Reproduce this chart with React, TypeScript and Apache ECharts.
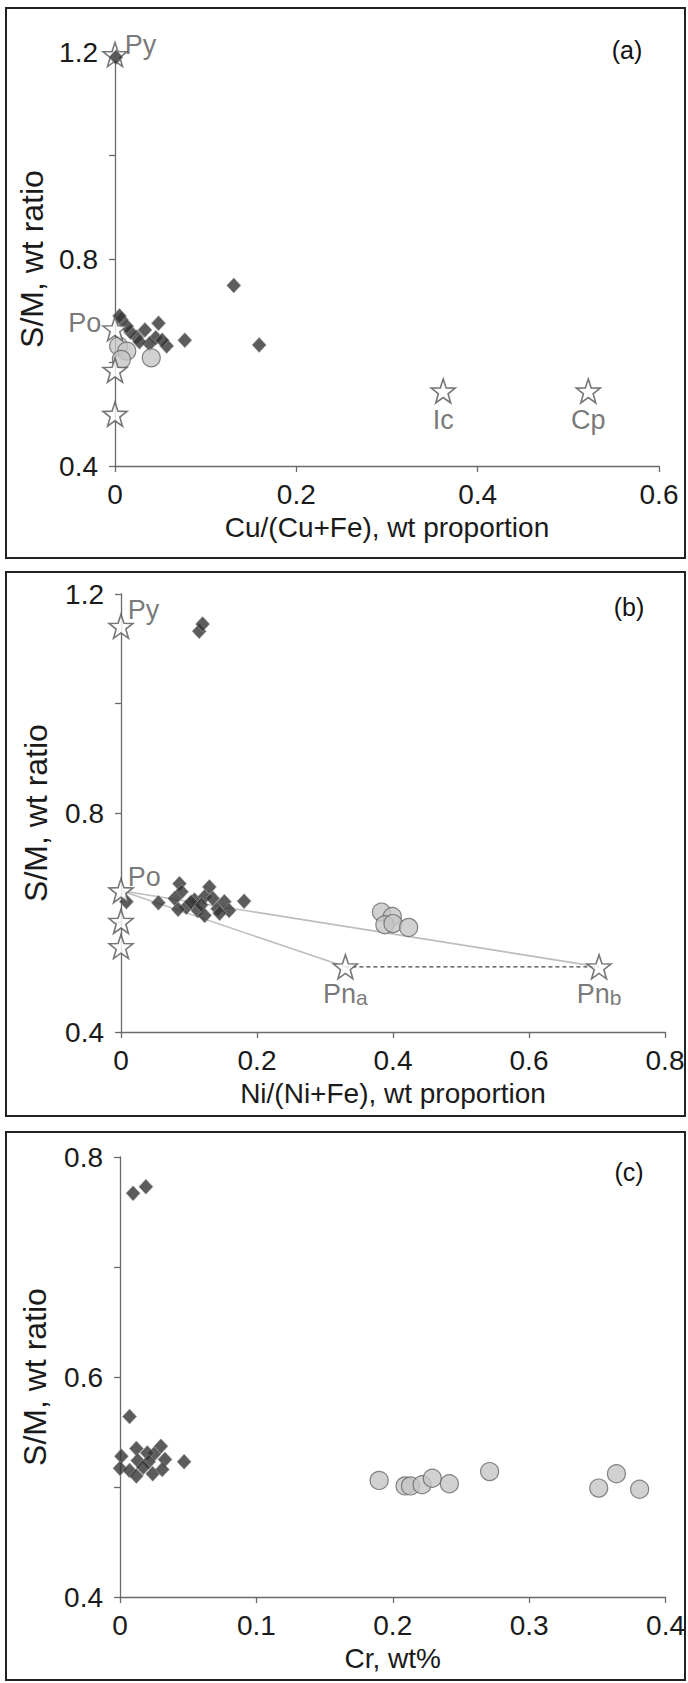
import React, { useEffect, useRef } from "react";
import * as echarts from "echarts";

// ---------- Panel (a): Cu/(Cu+Fe) vs S/M ----------
const aDiamonds: number[][] = [
  [0.131, 0.749], [0.159, 0.634], [0.077, 0.643], [0.048, 0.676], [0.057, 0.632],
  [0.045, 0.648], [0.033, 0.663], [0.024, 0.649], [0.017, 0.659], [0.007, 0.683],
  [0.005, 0.69], [0.013, 0.67], [0.038, 0.636], [0.052, 0.643], [0.027, 0.64],
];
const aPyDiamond: number[][] = [[0.001, 1.19]];
const aCircles: number[][] = [[0.004, 0.632], [0.013, 0.622], [0.007, 0.606], [0.04, 0.609]];
const aStars: number[][] = [[0, 1.195], [0, 0.665], [0, 0.585], [0, 0.5], [0.362, 0.545], [0.522, 0.545]];
const aStarNames = ["Py", "Po", "", "", "Ic", "Cp"];

// ---------- Panel (b): Ni/(Ni+Fe) vs S/M ----------
const bDiamonds: number[][] = [
  [0.115, 1.132], [0.12, 1.145],
  [0.008, 0.638], [0.055, 0.636], [0.086, 0.671], [0.089, 0.656], [0.079, 0.644],
  [0.096, 0.628], [0.084, 0.624], [0.108, 0.641], [0.13, 0.665], [0.123, 0.647],
  [0.135, 0.644], [0.113, 0.622], [0.123, 0.613], [0.142, 0.625], [0.152, 0.638],
  [0.159, 0.622], [0.145, 0.617], [0.181, 0.639], [0.103, 0.637], [0.118, 0.632],
];
const bCircles: number[][] = [[0.383, 0.619], [0.399, 0.611], [0.388, 0.596], [0.4, 0.598], [0.423, 0.591]];
const bStars: number[][] = [[0, 1.141], [0, 0.658], [0, 0.602], [0, 0.556], [0.33, 0.519], [0.703, 0.519]];
const bStarNames = ["Py", "Po", "", "", "Pna", "Pnb"];
const bTieA: number[][] = [[0, 0.658], [0.33, 0.519]];
const bTieB: number[][] = [[0, 0.658], [0.703, 0.519]];
const bPnLine: number[][] = [[0.33, 0.519], [0.703, 0.519]];

// ---------- Panel (c): Cr vs S/M ----------
const cDiamonds: number[][] = [
  [0.0096, 0.767], [0.019, 0.773], [0.007, 0.564], [0.001, 0.528], [0.012, 0.535],
  [0.03, 0.537], [0.025, 0.53], [0.02, 0.531], [0.013, 0.524], [0.0, 0.517],
  [0.007, 0.515], [0.012, 0.51], [0.021, 0.523], [0.033, 0.525], [0.024, 0.512],
  [0.047, 0.523], [0.031, 0.516], [0.017, 0.518],
];
const cCircles: number[][] = [
  [0.19, 0.506], [0.209, 0.501], [0.213, 0.501], [0.2215, 0.502], [0.229, 0.508],
  [0.2415, 0.503], [0.271, 0.514], [0.351, 0.499], [0.364, 0.512], [0.381, 0.498],
];

// axis definitions
const xTitles = ["Cu/(Cu+Fe), wt proportion", "Ni/(Ni+Fe), wt proportion", "Cr, wt%"];
const yTitle = "S/M, wt ratio";
const panelTags = ["(a)", "(b)", "(c)"];

const FONT = '"Liberation Sans", Arial, Helvetica, sans-serif';
const AXIS_COLOR = "#6a6a6a";
const STAR_PATH =
  "path://M12,0.8 L14.8,8.9 L23.4,9.1 L16.6,14.3 L19.1,22.6 L12,17.7 L4.9,22.6 L7.4,14.3 L0.6,9.1 L9.2,8.9 Z";

const labelPlacement: Record<string, any> = {
  a_Py: { position: "right", distance: 5, offset: [-8, -10] },
  a_Po: { position: "left", distance: 5, offset: [4, -6] },
  a_Ic: { position: "bottom", distance: 3 },
  a_Cp: { position: "bottom", distance: 3 },
  b_Py: { position: "right", distance: 5, offset: [-11, -16] },
  b_Po: { position: "right", distance: 5, offset: [-11, -14] },
  b_Pna: { position: "bottom", distance: 1 },
  b_Pnb: { position: "bottom", distance: 1 },
};

function fmtTick(min: number, labelStep: number) {
  return (v: number) => {
    const k = (v - min) / labelStep;
    if (Math.abs(k - Math.round(k)) > 1e-6) return "";
    const r = Math.round(v * 10) / 10;
    return r === 0 ? "0" : r.toFixed(1);
  };
}

function xAxisCfg(gi: number, max: number, step: number, name: string) {
  return {
    type: "value",
    gridIndex: gi,
    min: 0,
    max,
    interval: step,
    name,
    nameLocation: "middle",
    nameGap: 47,
    nameTextStyle: { fontFamily: FONT, fontSize: 28, color: "#1a1a1a" },
    axisLine: { show: true, onZero: false, lineStyle: { color: AXIS_COLOR, width: 1.3 } },
    axisTick: { show: true, inside: false, length: 6, lineStyle: { color: AXIS_COLOR, width: 1.3 } },
    splitLine: { show: false },
    axisLabel: {
      fontFamily: FONT,
      fontSize: 28,
      color: "#1a1a1a",
      margin: 14,
      formatter: fmtTick(0, step),
    },
  };
}

function yAxisCfg(gi: number, min: number, max: number, step: number, labelStep: number, nameGap: number) {
  return {
    type: "value",
    gridIndex: gi,
    min,
    max,
    interval: step,
    name: yTitle,
    nameLocation: "middle",
    nameGap,
    nameTextStyle: { fontFamily: FONT, fontSize: 32, color: "#1a1a1a" },
    axisLine: { show: true, onZero: false, lineStyle: { color: AXIS_COLOR, width: 1.3 } },
    axisTick: { show: true, inside: false, length: 6, lineStyle: { color: AXIS_COLOR, width: 1.3 } },
    splitLine: { show: false },
    axisLabel: {
      fontFamily: FONT,
      fontSize: 28,
      color: "#1a1a1a",
      margin: 17,
      formatter: fmtTick(min, labelStep),
    },
  };
}

const diamondStyle = { color: "#333333", borderColor: "#9a9a9a", borderWidth: 0.8 };
const circleStyle = { color: "#c6c6c6", borderColor: "#666666", borderWidth: 1.2 };
const starStyle = { color: "#ffffff", borderColor: "#555555", borderWidth: 1.6 };

function diamondSeries(gi: number, data: number[][], z = 3) {
  return {
    type: "scatter",
    xAxisIndex: gi,
    yAxisIndex: gi,
    data,
    symbol: "diamond",
    symbolSize: [14, 15],
    itemStyle: diamondStyle,
    z,
  };
}

function circleSeries(gi: number, data: number[][]) {
  return {
    type: "scatter",
    xAxisIndex: gi,
    yAxisIndex: gi,
    data,
    symbol: "circle",
    symbolSize: 18,
    itemStyle: circleStyle,
    z: 4,
  };
}

function starSeries(gi: number, prefix: string, data: number[][], names: string[]) {
  return {
    type: "scatter",
    xAxisIndex: gi,
    yAxisIndex: gi,
    symbol: STAR_PATH,
    symbolSize: 24,
    itemStyle: starStyle,
    z: 5,
    data: data.map((p, i) => {
      const n = names[i];
      const place = labelPlacement[prefix + "_" + n];
      const sub = n.length === 3;
      return {
        value: p,
        name: n,
        label: n
          ? {
              show: true,
              ...place,
              formatter: sub ? `{m|${n.slice(0, 2)}}{s|${n.slice(2)}}` : n,
              fontFamily: FONT,
              fontSize: 27,
              color: "#555555",
              rich: {
                m: { fontFamily: FONT, fontSize: 27, color: "#555555", verticalAlign: "bottom" },
                s: { fontFamily: FONT, fontSize: 21, color: "#555555", verticalAlign: "bottom" },
              },
            }
          : { show: false },
      };
    }),
  };
}

function lineSeries(gi: number, data: number[][], dashed: boolean) {
  return {
    type: "line",
    xAxisIndex: gi,
    yAxisIndex: gi,
    data,
    symbol: "none",
    silent: true,
    lineStyle: dashed
      ? { color: "#444444", width: 1.2, type: [4, 3] }
      : { color: "#bdbdbd", width: 1.6 },
    z: 2,
  };
}

const frames = [
  { y: 8, h: 550 },
  { y: 572, h: 544 },
  { y: 1132, h: 548 },
];
const tagPos = [
  { x: 627, y: 50 },
  { x: 629, y: 607 },
  { x: 629, y: 1172 },
];

export default function App() {
  const ref = useRef<HTMLDivElement>(null);
  useEffect(() => {
    if (!ref.current) return;
    const chart = echarts.init(ref.current, null, { renderer: "svg" });
    const option: any = {
      animation: false,
      backgroundColor: "#ffffff",
      grid: [
        { left: 115, top: 52, width: 544, height: 414 },
        { left: 121, top: 594, width: 544, height: 438 },
        { left: 120, top: 1157, width: 548, height: 440 },
      ],
      xAxis: [
        xAxisCfg(0, 0.6, 0.2, xTitles[0]),
        xAxisCfg(1, 0.8, 0.2, xTitles[1]),
        xAxisCfg(2, 0.4, 0.1, xTitles[2]),
      ],
      yAxis: [
        yAxisCfg(0, 0.4, 1.2, 0.2, 0.4, 63),
        yAxisCfg(1, 0.4, 1.2, 0.2, 0.4, 69),
        yAxisCfg(2, 0.4, 0.8, 0.1, 0.2, 69),
      ],
      graphic: [
        ...frames.map((f) => ({
          type: "rect",
          shape: { x: 6, y: f.y, width: 679, height: f.h },
          style: { fill: "none", stroke: "#222222", lineWidth: 2 },
          silent: true,
        })),
        ...tagPos.map((p, i) => ({
          type: "text",
          x: p.x,
          y: p.y,
          style: {
            text: panelTags[i],
            fontFamily: FONT,
            fontSize: 25,
            fill: "#111111",
            align: "center",
            verticalAlign: "middle",
          },
          silent: true,
        })),
      ],
      series: [
        // panel a
        diamondSeries(0, aDiamonds),
        circleSeries(0, aCircles),
        starSeries(0, "a", aStars, aStarNames),
        diamondSeries(0, aPyDiamond, 6),
        // panel b
        lineSeries(1, bTieA, false),
        lineSeries(1, bTieB, false),
        lineSeries(1, bPnLine, true),
        diamondSeries(1, bDiamonds),
        circleSeries(1, bCircles),
        starSeries(1, "b", bStars, bStarNames),
        // panel c
        diamondSeries(2, cDiamonds),
        circleSeries(2, cCircles),
      ],
    };
    chart.setOption(option);
    return () => chart.dispose();
  }, []);
  return (
    <div
      ref={ref}
      style={{ position: "absolute", left: 0, top: 0, width: 688, height: 1683, background: "#fff" }}
    />
  );
}
